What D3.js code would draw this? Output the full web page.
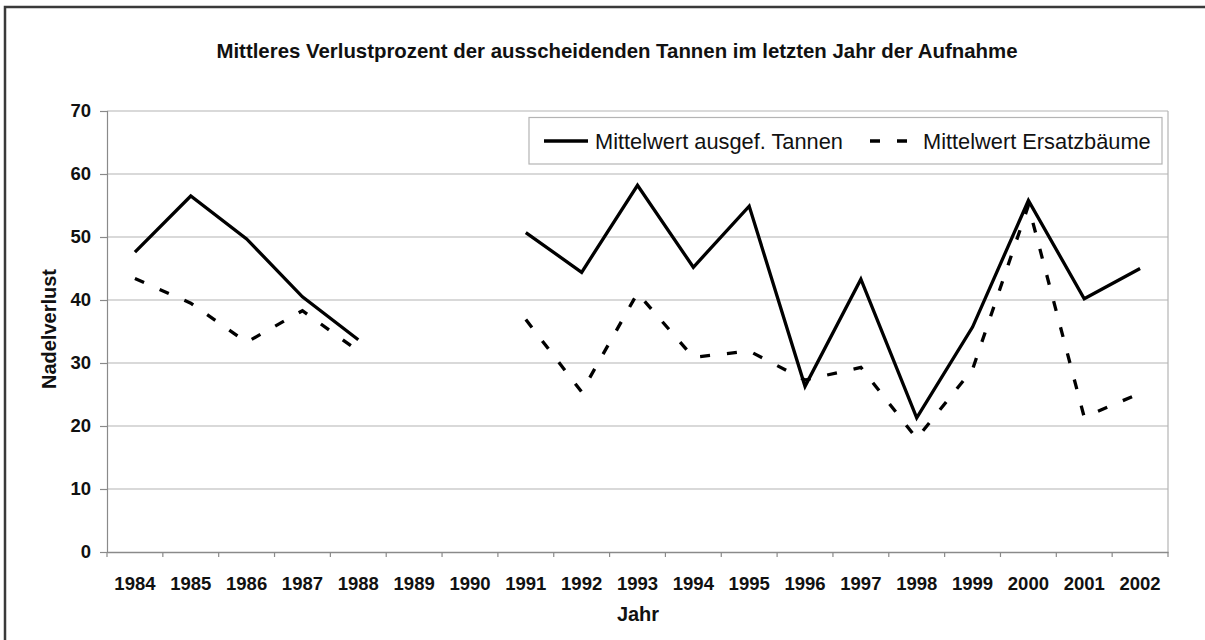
<!DOCTYPE html>
<html>
<head>
<meta charset="utf-8">
<script src="https://cdn.jsdelivr.net/npm/d3@7"></script>
<style>
  html, body { margin: 0; padding: 0; background: #fff; overflow: hidden; }
  svg { display: block; font-family: "Liberation Sans", Arial, sans-serif; }
</style>
</head>
<body>
<svg id="chart" width="1205" height="640"></svg>
<script>
const years = ["1984","1985","1986","1987","1988","1989","1990","1991","1992","1993","1994","1995","1996","1997","1998","1999","2000","2001","2002"];
const tannen = [47.6, 56.5, 49.7, 40.5, 33.7, null, null, 50.7, 44.4, 58.2, 45.2, 54.9, 26.3, 43.3, 21.3, 35.7, 55.8, 40.2, 45.0];
const ersatz = [43.4, 39.5, 33.3, 38.3, 31.9, null, null, 36.9, 25.4, 41.1, 30.9, 31.9, 27.3, 29.3, 18.0, 29.0, 55.0, 21.4, 25.2];
const yTicks = [0, 10, 20, 30, 40, 50, 60, 70];
const seriesNames = ["Mittelwert ausgef. Tannen", "Mittelwert Ersatzbäume"];
const titleText = "Mittleres Verlustprozent der ausscheidenden Tannen im letzten Jahr der Aufnahme";
const xTitle = "Jahr";
const yTitle = "Nadelverlust";

(function () {
const svg = d3.select("#chart");
const W = 1205, H = 640;
const pLeft = 107, pRight = 1168, pTop = 111, pBottom = 552;

// outer frame: only left and top edges are visible in the picture
svg.append("path").attr("d", `M5,${H}V7H${W}`)
  .attr("fill", "none").attr("stroke", "#3a3a3a").attr("stroke-width", 2.5);

const x = d3.scaleBand().domain(years).range([pLeft, pRight]).padding(0);
const y = d3.scaleLinear().domain([0, 70]).range([pBottom, pTop]);

// gridlines
svg.append("g").selectAll("line").data(yTicks.filter(d => d > 0)).join("line")
  .attr("x1", pLeft).attr("x2", pRight)
  .attr("y1", d => y(d)).attr("y2", d => y(d))
  .attr("stroke", "#b4b4b4").attr("stroke-width", 1.2);

// right border of plot
svg.append("line").attr("x1", pRight).attr("x2", pRight).attr("y1", pTop).attr("y2", pBottom)
  .attr("stroke", "#b4b4b4").attr("stroke-width", 1.2);

// y axis
const yAxis = svg.append("g").attr("transform", `translate(${pLeft},0)`)
  .call(d3.axisLeft(y).tickValues(yTicks).tickSize(7).tickPadding(9).tickFormat(d3.format("d")));
yAxis.select(".domain").attr("stroke", "#8a8a8a").attr("stroke-width", 1.2);
yAxis.selectAll(".tick line").attr("stroke", "#8a8a8a").attr("stroke-width", 1.2);
yAxis.selectAll("text").attr("font-size", 18.5).attr("font-weight", "bold").attr("fill", "#111")
  .attr("font-family", "Liberation Sans, Arial, sans-serif");

// x axis
const xAxis = svg.append("g").attr("transform", `translate(0,${pBottom})`)
  .call(d3.axisBottom(x).tickSize(0).tickPadding(25));
xAxis.select(".domain").attr("stroke", "#8a8a8a").attr("stroke-width", 1.5);
xAxis.selectAll("text").attr("font-size", 18.5).attr("font-weight", "bold").attr("fill", "#111")
  .attr("font-family", "Liberation Sans, Arial, sans-serif");
// category boundary ticks
const bounds = years.map(d => x(d)).concat([x(years[years.length - 1]) + x.bandwidth()]);
xAxis.append("g").selectAll("line").data(bounds).join("line")
  .attr("x1", d => d).attr("x2", d => d).attr("y1", 0).attr("y2", 5)
  .attr("stroke", "#8a8a8a").attr("stroke-width", 1.2);

// lines
const cx = (i) => x(years[i]) + x.bandwidth() / 2;
const line = d3.line().defined(d => d != null).x((d, i) => cx(i)).y(d => y(d));

svg.append("path").datum(ersatz).attr("d", line)
  .attr("fill", "none").attr("stroke", "#000").attr("stroke-width", 3.3)
  .attr("stroke-dasharray", "10,17").attr("stroke-linejoin", "miter");

svg.append("path").datum(tannen).attr("d", line)
  .attr("fill", "none").attr("stroke", "#000").attr("stroke-width", 3.3)
  .attr("stroke-linejoin", "miter");

// title
svg.append("text").attr("x", 617).attr("y", 58).attr("text-anchor", "middle")
  .attr("font-size", 20.4).attr("font-weight", "bold").attr("fill", "#111").text(titleText);

// axis titles
svg.append("text").attr("x", 638).attr("y", 621).attr("text-anchor", "middle")
  .attr("font-size", 20).attr("font-weight", "bold").attr("fill", "#111").text(xTitle);
svg.append("text").attr("transform", "translate(56,329) rotate(-90)").attr("text-anchor", "middle")
  .attr("font-size", 20).attr("font-weight", "bold").attr("fill", "#111").text(yTitle);

// legend
const lg = svg.append("g");
lg.append("rect").attr("x", 529).attr("y", 117.5).attr("width", 633).attr("height", 46.5)
  .attr("fill", "#fff").attr("stroke", "#b4b4b4").attr("stroke-width", 1.2);
lg.append("line").attr("x1", 544).attr("x2", 588).attr("y1", 141).attr("y2", 141)
  .attr("stroke", "#000").attr("stroke-width", 3.3);
lg.append("text").attr("x", 595).attr("y", 149).attr("font-size", 21.8).attr("fill", "#111").text(seriesNames[0]);
lg.append("line").attr("x1", 870).attr("x2", 907).attr("y1", 141).attr("y2", 141)
  .attr("stroke", "#000").attr("stroke-width", 3.3).attr("stroke-dasharray", "10,17");
lg.append("text").attr("x", 923).attr("y", 149).attr("font-size", 21.8).attr("fill", "#111").text(seriesNames[1]);
})();
</script>
</body>
</html>
